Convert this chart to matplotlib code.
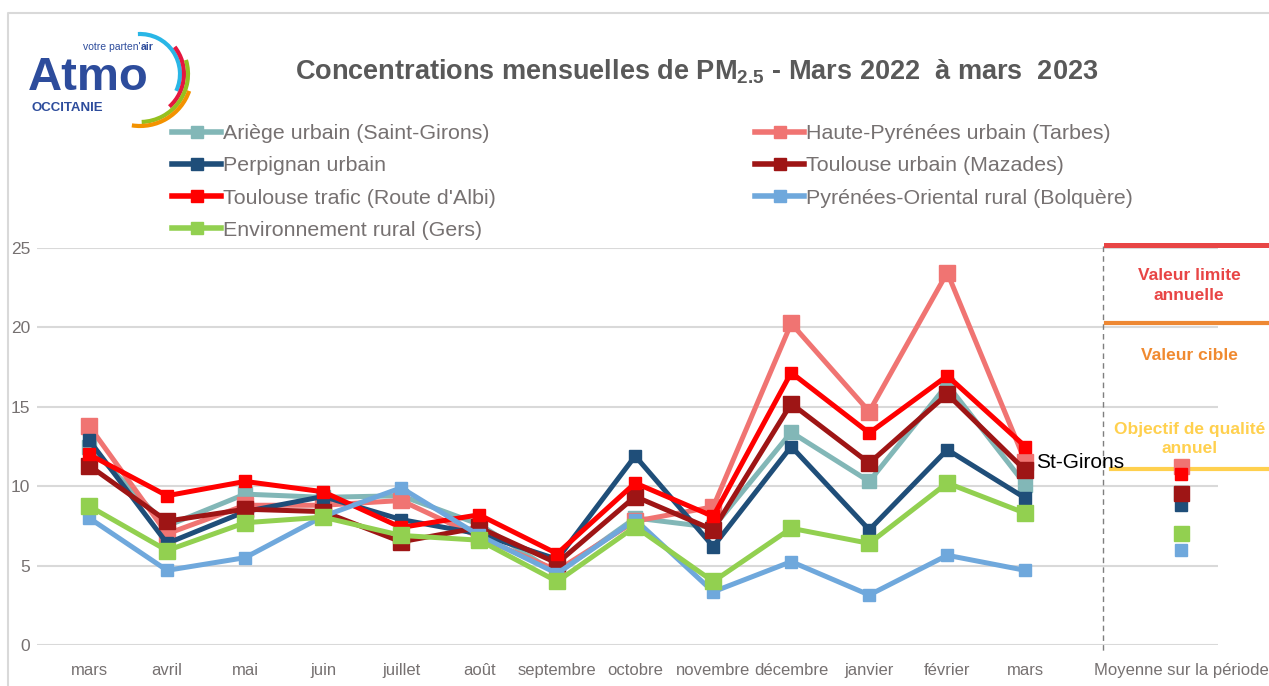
import matplotlib.pyplot as plt
import numpy as np
from matplotlib.patches import Arc
from matplotlib.lines import Line2D

# Data
months = ['mars', 'avril', 'mai', 'juin', 'juillet', 'août', 'septembre', 'octobre',
          'novembre', 'décembre', 'janvier', 'février', 'mars']
mean_label = 'Moyenne sur la période'

ariege = [12.5, 7.5, 9.5, 9.3, 9.4, 7.6, 4.5, 8.0, 7.4, 13.4, 10.3, 16.4, 10.1]
tarbes = [13.8, 7.0, 8.8, 8.8, 9.1, 6.8, 4.7, 7.8, 8.7, 20.25, 14.7, 23.45, 11.55]
perpignan = [12.9, 6.4, 8.4, 9.35, 7.9, 7.0, 5.4, 11.9, 6.2, 12.5, 7.25, 12.3, 9.25]
toulouse_urb = [11.3, 7.8, 8.55, 8.4, 6.5, 7.4, 5.15, 9.35, 7.25, 15.2, 11.45, 15.8, 11.0]
toulouse_traf = [12.0, 9.4, 10.3, 9.65, 7.4, 8.2, 5.75, 10.2, 8.1, 17.15, 13.35, 16.95, 12.5]
bolquere = [8.0, 4.7, 5.5, 8.1, 9.9, 6.9, 4.5, 7.9, 3.35, 5.25, 3.15, 5.65, 4.7]
gers = [8.75, 5.95, 7.7, 8.05, 6.9, 6.6, 4.0, 7.45, 4.0, 7.35, 6.4, 10.2, 8.3]

# period means (last category)
means = {'ariege': 9.6, 'tarbes': 11.3, 'perpignan': 8.8, 'toulouse_urb': 9.6,
         'toulouse_traf': 10.75, 'bolquere': 6.0, 'gers': 7.05}

limit_value = 25.2
target_value = 20.3
quality_value = 11.1

series = [
    ('ariege', 'Ariège urbain (Saint-Girons)', ariege, '#82B7B7', 10.5),
    ('tarbes', 'Haute-Pyrénées urbain (Tarbes)', tarbes, '#F07472', 12),
    ('perpignan', 'Perpignan urbain', perpignan, '#1F4E79', 9),
    ('toulouse_urb', 'Toulouse urbain (Mazades)', toulouse_urb, '#9E1515', 12),
    ('toulouse_traf', "Toulouse trafic (Route d'Albi)", toulouse_traf, '#FF0000', 9),
    ('bolquere', 'Pyrénées-Oriental rural (Bolquère)', bolquere, '#6FA8DC', 9),
    ('gers', 'Environnement rural (Gers)', gers, '#92D050', 12),
]

plain = ['Liberation Sans', 'DejaVu Sans']
grey = '#767171'

fig = plt.figure(figsize=(12.69, 6.86), dpi=100)
W, H = 1269, 686

ax = fig.add_axes([37 / W, 1 - 645 / H, (1218 - 37) / W, (645 - 248) / H])
x = np.arange(len(months))
x_mean = len(months) + 1

handles = {}
for key, label, vals, col, ms in series:
    h, = ax.plot(x, vals, color=col, lw=3.6, marker='s', ms=ms, label=label,
                 solid_joinstyle='miter', zorder=3)
    ax.plot([x_mean], [means[key]], color=col, marker='s', ms=ms * 0.9, ls='none', zorder=3)
    handles[key] = h

ax.set_xlim(-0.667, 14.47)
ax.set_ylim(0, 25)
ax.set_yticks(np.arange(0, 26, 5))
ax.set_xticks(list(x) + [x_mean])
ax.set_xticklabels(months + [mean_label])
ax.grid(axis='y', color='#D9D9D9', lw=1.5, zorder=0)
ax.set_axisbelow(True)
for s in ax.spines.values():
    s.set_visible(False)
ax.tick_params(axis='x', length=0, colors=grey, labelsize=12, pad=13)
ax.tick_params(axis='y', length=0, colors=grey, labelsize=12.5, pad=5)
for t in ax.get_xticklabels() + ax.get_yticklabels():
    t.set_family(plain)

# separator before the period mean
ax.plot([len(months), len(months)], [25.1, -0.45], color='#7F7F7F', lw=1,
        ls=(0, (4, 3)), clip_on=False, zorder=2)

# reference values
x_end = 15.13
ax.plot([13.04, x_end], [limit_value] * 2, color='#E84545', lw=3.6, clip_on=False, zorder=4)
ax.plot([13.03, x_end], [target_value] * 2, color='#EE8833', lw=3.0, clip_on=False, zorder=4)
ax.plot([13.1, x_end], [quality_value] * 2, color='#FFD04E', lw=3.0, clip_on=False, zorder=2)
ax.text(14.1, 22.64, 'Valeur limite\nannuelle', color='#E84545', fontsize=12.5, fontweight='bold',
        family=plain, ha='center', va='center', linespacing=1.45)
ax.text(14.1, 18.26, 'Valeur cible', color='#F08A30', fontsize=12.5, fontweight='bold',
        family=plain, ha='center', va='center')
ax.text(14.1, 12.97, 'Objectif de qualité\nannuel', color='#FFD04E', fontsize=12.5, fontweight='bold',
        family=plain, ha='center', va='center', linespacing=1.3)

ax.text(12.14, 11.5, 'St-Girons', color='black', fontsize=15, family=plain,
        ha='left', va='center', zorder=5)

order = ['ariege', 'perpignan', 'toulouse_traf', 'gers', 'tarbes', 'toulouse_urb', 'bolquere']
leg_handles = []
for k in order:
    h = handles[k]
    leg_handles.append(Line2D([], [], color=h.get_color(), lw=4, marker='s', ms=8,
                              label=h.get_label()))
leg = fig.legend(handles=leg_handles, ncol=2, loc='upper left',
                 bbox_to_anchor=(172 / W, 1 - 124 / H), frameon=False,
                 prop={'family': plain, 'size': 15.4}, handlelength=2.3, handletextpad=0.1,
                 columnspacing=12.1, labelspacing=0.62, borderpad=0, borderaxespad=0)
for t in leg.get_texts():
    t.set_color(grey)

fig.text(697 / W, 1 - 72 / H,
         r'Concentrations mensuelles de PM$_{\mathregular{2.5}}$ - Mars 2022  à mars  2023',
         color='#595959', fontsize=19.5, fontweight='bold', family=plain,
         ha='center', va='center')

# overlay in pixel coordinates for the frame and logo
ov = fig.add_axes([0, 0, 1, 1], zorder=-1)
ov.set_xlim(0, W)
ov.set_ylim(0, H)
ov.axis('off')
ov.plot([8, 8, W], [0, H - 13, H - 13], color='#D9D9D9', lw=1.5)

logo_blue = '#2D4C9C'
ov.text(28, H - 90, 'Atmo', color=logo_blue, fontsize=34, fontweight='bold',
        family=plain, ha='left', va='baseline')
ov.text(141, H - 47, 'votre parten\'', color=logo_blue, fontsize=7.5, family=plain,
        ha='right', va='center')
ov.text(141, H - 47, 'air', color=logo_blue, fontsize=7.5, fontweight='bold', family=plain,
        ha='left', va='center')
ov.text(31, H - 108, 'OCCITANIE', color=logo_blue, fontsize=9.5, fontweight='bold',
        family=plain, ha='left', va='center')
cx, cy = 140, H - 74
for r, t1, t2, col in [(40, -25, 93, '#29B6E6'), (44, -48, 38, '#E5173F'),
                       (48, -88, 17, '#95C11F'), (52, -99, -19, '#F39200')]:
    ov.add_patch(Arc((cx, cy), 2 * r, 2 * r, theta1=t1, theta2=t2, color=col, lw=3))

fig.savefig('out.png', dpi=100)
